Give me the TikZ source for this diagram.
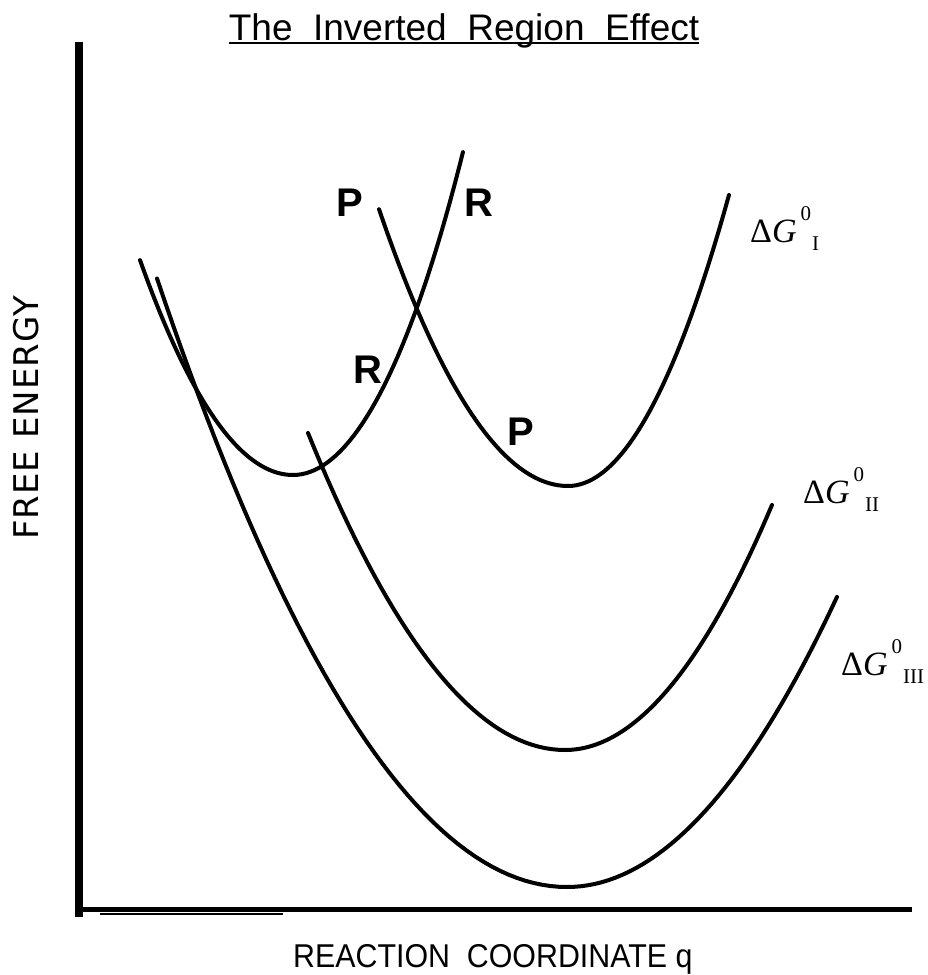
\documentclass[tikz,border=0pt]{standalone}
\usepackage{fontspec}
\setmainfont{Liberation Sans}
\newfontfamily\serifdg{Liberation Serif}
\newfontfamily\ylabfont[LetterSpace=3]{DejaVu Sans}
\usetikzlibrary{positioning,calc}

% free energy label: Delta G, raised 0, lowered roman index
\newcommand{\dGzero}[1]{Δ\textit{G}\hspace{4pt}\raisebox{22pt}{\fontsize{21}{21}\selectfont 0}\hspace{1pt}\raisebox{-8pt}{\fontsize{21}{21}\selectfont #1}}

\begin{document}
\begin{tikzpicture}[
  x=1pt, y=-1pt,
  curve/.style={line width=4pt, line cap=round, line join=round},
  axisline/.style={line width=5pt},
  stlab/.style={font=\bfseries\fontsize{40}{40}\selectfont, inner sep=0pt},
  dglab/.style={font=\serifdg\fontsize{34}{34}\selectfont, inner sep=0pt, anchor=base west},
  titlebox/.style={font=\fontsize{37}{40}\selectfont, inner sep=0pt, anchor=base}
]
\useasboundingbox (0,0) rectangle (927,975);

% Title
\node[titlebox] (title) at (464,40) {The\ \ Inverted\ \ Region\ \ Effect};
\draw[line width=2pt] ([yshift=-3pt]title.base west) -- ([yshift=-3pt]title.base east);

% Axes
\coordinate (ytop) at (79,42);
\coordinate (orig) at (79,909);
\coordinate (xend) at (912,909);
\draw[line width=8pt] (ytop) -- ([yshift=-8pt]orig);
\draw[axisline] (orig) -- (xend);
\draw[line width=1.5pt] (100,914) -- (283,914);

\node[font=\ylabfont\fontsize{34}{34}\selectfont, rotate=90, inner sep=0pt] (ylab) at (26,418) {FREE ENERGY};
\node[font=\fontsize{33}{36}\selectfont, inner sep=0pt, anchor=base west] (xlab) at (293,967)
  {\scalebox{0.92}[1]{REACTION\ \ COORDINATE q}};

% Reactant curve R (x in units of 100)
\draw[curve] plot[domain=1.40:2.93, samples=40] ({100*\x}, {475-91.8*(\x-2.93)^2})
  -- plot[domain=2.93:4.63, samples=40] ({100*\x}, {475-106*(\x-2.93)^2-2*(\x-2.93)^4});

% Product curves
\draw[curve] plot[domain=3.79:5.68, samples=40] ({100*\x}, {486-77.5*(\x-5.68)^2})
  -- plot[domain=5.68:7.29, samples=40] ({100*\x}, {486-112.3*(\x-5.68)^2});
\draw[curve] plot[domain=3.08:5.65, samples=40] ({100*\x}, {750-48*(\x-5.65)^2})
  -- plot[domain=5.65:7.72, samples=40] ({100*\x}, {750-57.2*(\x-5.65)^2});
\draw[curve] plot[domain=1.57:5.67, samples=50] ({100*\x}, {887-36.2*(\x-5.67)^2})
  -- plot[domain=5.67:8.37, samples=40] ({100*\x}, {887-39.8*(\x-5.67)^2});

% Curve letters
\node[stlab] (pup) at (350,203) {P};
\node[stlab] (rup) at (479,203) {R};
\node[stlab] (rlow) at (368,370) {R};
\node[stlab] (plow) at (521,432) {P};

% Driving force labels
\node[dglab] (dg1) at (750,242) {\dGzero{I}};
\node[dglab] (dg2) at (803,503) {\dGzero{II}};
\node[dglab] (dg3) at (841,675) {\dGzero{III}};

\end{tikzpicture}
\end{document}
